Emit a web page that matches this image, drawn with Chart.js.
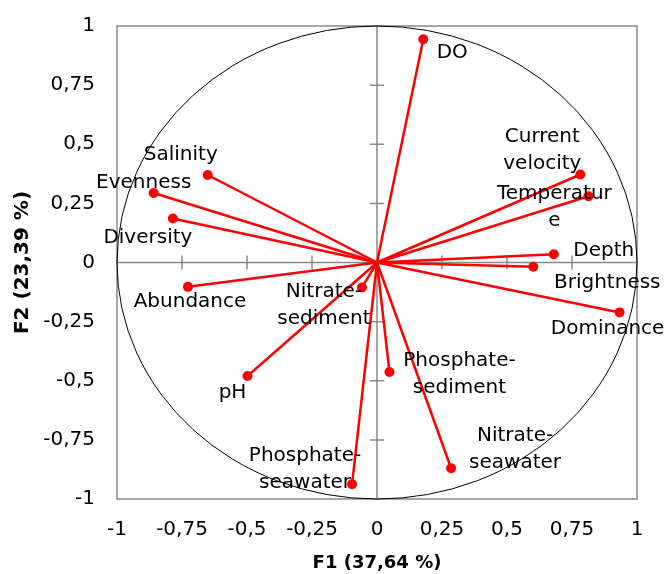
<!DOCTYPE html>
<html>
<head>
<meta charset="utf-8">
<script src="https://cdn.jsdelivr.net/npm/chart.js@4.4.0/dist/chart.umd.min.js"></script>
<style>
  html, body { margin: 0; padding: 0; background: #fff; }
  #wrap { width: 667px; height: 574px; }
</style>
</head>
<body>
<div id="wrap"><canvas id="pca"></canvas></div>
<script>
// variables of the correlation circle
const variables = [
  "DO", "Current velocity", "Temperature", "Depth", "Brightness",
  "Dominance", "Phosphate-sediment", "Nitrate-seawater", "Phosphate-seawater",
  "Nitrate-sediment", "pH", "Abundance", "Salinity", "Evenness", "Diversity"
];
// F1 loadings
const f1 = [0.178, 0.782, 0.813, 0.680, 0.601, 0.933, 0.048, 0.285, -0.096, -0.058, -0.498, -0.727, -0.651, -0.859, -0.785];
// F2 loadings
const f2 = [0.944, 0.372, 0.280, 0.035, -0.018, -0.211, -0.463, -0.870, -0.938, -0.106, -0.480, -0.103, 0.370, 0.294, 0.186];
// label text as it wraps in the picture
const labelLines = [
  ["DO"], ["Current", "velocity"], ["Temperatur", "e"], ["Depth"], ["Brightness"],
  ["Dominance"], ["Phosphate-", "sediment"], ["Nitrate-", "seawater"], ["Phosphate-", "seawater"],
  ["Nitrate-", "sediment"], ["pH"], ["Abundance"], ["Salinity"], ["Evenness"], ["Diversity"]
];
const tickValues = [-1, -0.75, -0.5, -0.25, 0, 0.25, 0.5, 0.75, 1];

// label placement relative to the point (px)
const labelOffsets = [
  [29, 14], [-38, -38], [-34, -2], [50, -3], [74, 16],
  [-12, 16], [70, -11], [64, -32], [-47, -29],
  [-38, 4], [-15, 17], [2, 15], [-27, -20], [-10, -10], [-25, 19]
];

const FONT = "'DejaVu Sans', sans-serif";
const AXIS_GREY = "#898989";

const fmt = v => String(v).replace(".", ",");

const datasets = variables.map(function(name, i) {
  return {
    label: name,
    data: [{ x: 0, y: 0 }, { x: f1[i], y: f2[i] }],
    showLine: true,
    borderColor: "#ff0000",
    borderWidth: 2.5,
    pointRadius: [0, 5],
    pointHoverRadius: [0, 5],
    pointBackgroundColor: "#ff0000",
    pointBorderWidth: 0
  };
});

// circle, frame and centre axes
const backdrop = {
  id: "backdrop",
  beforeDatasetsDraw(chart) {
    const c = chart.ctx, a = chart.chartArea;
    const xs = chart.scales.x, ys = chart.scales.y;
    const cx = xs.getPixelForValue(0), cy = ys.getPixelForValue(0);
    c.save();
    c.strokeStyle = AXIS_GREY;
    c.lineWidth = 1.5;
    c.strokeRect(a.left, a.top, a.right - a.left, a.bottom - a.top);
    c.beginPath();
    c.moveTo(a.left, cy); c.lineTo(a.right, cy);
    c.moveTo(cx, a.top); c.lineTo(cx, a.bottom);
    tickValues.forEach(function(v) {
      if (v === 0 || Math.abs(v) === 1) return;
      const px = xs.getPixelForValue(v), py = ys.getPixelForValue(v);
      c.moveTo(px, cy - 7); c.lineTo(px, cy + 7);
      c.moveTo(cx - 7, py); c.lineTo(cx + 7, py);
    });
    c.stroke();
    // unit circle
    c.strokeStyle = "#000";
    c.lineWidth = 1;
    c.beginPath();
    c.ellipse(cx, cy, xs.getPixelForValue(1) - cx, cy - ys.getPixelForValue(1), 0, 0, Math.PI * 2);
    c.stroke();
    c.restore();
  },
  afterDatasetsDraw(chart) {
    const c = chart.ctx;
    c.save();
    c.font = "20px " + FONT;
    c.fillStyle = "#000";
    c.textAlign = "center";
    c.textBaseline = "middle";
    chart.data.datasets.forEach(function(ds, i) {
      const pt = chart.getDatasetMeta(i).data[1];
      labelLines[i].forEach(function(line, k) {
        c.fillText(line, pt.x + labelOffsets[i][0], pt.y + labelOffsets[i][1] + k * 27);
      });
    });
    c.restore();
  }
};

new Chart(document.getElementById("pca"), {
  type: "scatter",
  data: { datasets: datasets },
  options: {
    responsive: true,
    maintainAspectRatio: false,
    animation: false,
    layout: { padding: { top: 26, right: 30, left: 0, bottom: 0 } },
    plugins: { legend: { display: false }, tooltip: { enabled: false } },
    scales: {
      x: {
        type: "linear",
        min: -1, max: 1,
        afterBuildTicks: s => { s.ticks = tickValues.map(v => ({ value: v })); },
        afterFit: s => { s.height = 75; s.paddingLeft = 0; s.paddingRight = 0; },
        grid: { display: false, drawTicks: false },
        border: { display: false },
        ticks: { padding: 19, color: "#000", font: { family: FONT, size: 20 }, callback: fmt },
        title: {
          display: true, text: "F1 (37,64 %)", color: "#000",
          font: { family: FONT, size: 18, weight: "bold" }, padding: { top: 0, bottom: 0 }
        }
      },
      y: {
        type: "linear",
        min: -1, max: 1,
        afterBuildTicks: s => { s.ticks = tickValues.map(v => ({ value: v })); },
        afterFit: s => { s.width = 117; s.paddingTop = 0; s.paddingBottom = 0; },
        grid: { display: false, drawTicks: false },
        border: { display: false },
        ticks: { padding: 22, color: "#000", font: { family: FONT, size: 20 }, callback: fmt },
        title: {
          display: true, text: "F2 (23,39 %)", color: "#000",
          font: { family: FONT, size: 20, weight: "bold" }, padding: { top: 11, bottom: 0 }
        }
      }
    }
  },
  plugins: [backdrop]
});
</script>
</body>
</html>
